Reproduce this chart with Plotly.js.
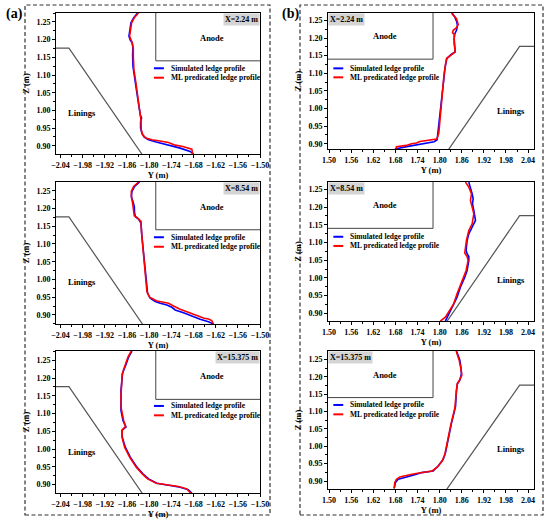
<!DOCTYPE html>
<html><head><meta charset="utf-8">
<script src="https://cdn.plot.ly/plotly-3.0.1.min.js"></script>
<style>html,body{margin:0;padding:0;background:#fff}#chart{width:550px;height:522px}</style>
</head><body><div id="chart"></div>
<script>
// ---------- data (Y in m, Z in m) ----------
const panelLabels = ["X=2.24 m","X=2.24 m","X=8.54 m","X=8.54 m","X=15.375 m","X=15.375 m"];
const seriesNames = ["Simulated ledge profile","ML predicated ledge profile"];
const xTitle = "Y (m)", yTitle = "Z (m)";

// (a) X=2.24 m
const aTopSimY = [-1.8312,-1.842,-1.8492,-1.8528,-1.8546,-1.851,-1.8456,-1.8438,-1.8447,-1.8438,-1.8393,-1.833,-1.8276,-1.824,-1.8204,-1.8231,-1.8231,-1.8195,-1.8132,-1.8015,-1.7835,-1.752,-1.716,-1.689,-1.68];
const aTopSimZ = [1.2755,1.2613,1.2472,1.2283,1.2094,1.1981,1.1906,1.1764,1.1576,1.1246,1.0869,1.0491,1.0114,0.9878,0.9784,0.969,0.9501,0.936,0.9247,0.9171,0.9115,0.903,0.8936,0.8841,0.8766];
const aTopMlY = [-1.8285,-1.8402,-1.8474,-1.8519,-1.8528,-1.8474,-1.8429,-1.8429,-1.8411,-1.8357,-1.8303,-1.8249,-1.8222,-1.8213,-1.8177,-1.8087,-1.7925,-1.7745,-1.7475,-1.7295,-1.7088,-1.6845,-1.6818];
const aTopMlZ = [1.2755,1.2613,1.2472,1.2236,1.2094,1.1953,1.1764,1.1529,1.1151,1.0774,1.0397,1.002,0.9737,0.9454,0.9313,0.9218,0.9171,0.9143,0.9096,0.902,0.8983,0.8907,0.8766];
// (b) X=2.24 m
const bTopSimY = [1.8339,1.8412,1.8457,1.8484,1.8457,1.8412,1.8394,1.8403,1.8421,1.8321,1.8195,1.8149,1.8104,1.8059,1.8014,1.7968,1.7932,1.7851,1.7507,1.7145,1.6783];
const bTopSimZ = [1.2707,1.2594,1.2481,1.2359,1.2218,1.2124,1.1982,1.1794,1.1606,1.154,1.1418,1.1183,1.0712,1.0242,0.9771,0.93,0.9112,0.9056,0.9,0.8924,0.8849];
const bTopMlY = [1.8321,1.8457,1.8502,1.8457,1.8367,1.8349,1.8394,1.8394,1.8421,1.8321,1.8186,1.8122,1.8077,1.8032,1.7977,1.7923,1.7778,1.7643,1.7462,1.7371,1.7235,1.71,1.6919,1.6828,1.681];
const bTopMlZ = [1.2707,1.2547,1.2387,1.2293,1.2218,1.2152,1.2105,1.1841,1.1606,1.1531,1.1418,1.0994,1.043,0.9865,0.93,0.9131,0.9112,0.9084,0.9065,0.9018,0.9,0.8952,0.8924,0.8915,0.8849];
// (a) X=8.54 m
const aMidSimY = [-1.8258,-1.8393,-1.8465,-1.8483,-1.8438,-1.8402,-1.8393,-1.8366,-1.8285,-1.8222,-1.8195,-1.815,-1.8105,-1.8078,-1.8042,-1.797,-1.7835,-1.77,-1.752,-1.7385,-1.7295,-1.707,-1.68,-1.662,-1.6395,-1.626];
const aMidSimZ = [1.2745,1.2622,1.2481,1.234,1.2199,1.2058,1.187,1.1757,1.17,1.1587,1.1211,1.074,1.027,0.9894,0.9611,0.947,0.9376,0.9329,0.9282,0.9216,0.9141,0.9065,0.8952,0.8877,0.8811,0.8745];
const aMidMlY = [-1.8285,-1.842,-1.8483,-1.8474,-1.8447,-1.842,-1.8402,-1.833,-1.822,-1.8204,-1.8168,-1.8123,-1.8087,-1.806,-1.7988,-1.779,-1.761,-1.7475,-1.734,-1.716,-1.698,-1.671,-1.6512,-1.6395,-1.6305,-1.626];
const aMidMlZ = [1.2745,1.2622,1.2481,1.2293,1.2152,1.1964,1.1794,1.1747,1.1634,1.1305,1.0834,1.0364,0.9988,0.9658,0.9498,0.9395,0.9357,0.9329,0.9254,0.916,0.9093,0.898,0.8905,0.8887,0.8839,0.8745];
// (b) X=8.54 m
const bMidSimY = [1.879,1.8836,1.8881,1.8909,1.8891,1.8927,1.8945,1.8972,1.8881,1.8791,1.8745,1.8718,1.8745,1.8791,1.8791,1.8745,1.8681,1.8563,1.8472,1.8336,1.8245,1.8154];
const bMidSimZ = [1.2707,1.2566,1.2377,1.2236,1.2095,1.1906,1.1764,1.1623,1.1434,1.1246,1.1057,1.0774,1.068,1.0605,1.0491,1.0208,1.002,0.9737,0.9454,0.9171,0.8983,0.8775];
const bMidMlY = [1.87,1.8791,1.8863,1.8836,1.8881,1.8927,1.8881,1.8791,1.8727,1.8681,1.8745,1.8772,1.8718,1.8609,1.8472,1.8381,1.8245,1.8154,1.8018];
const bMidMlZ = [1.2707,1.2566,1.2377,1.2189,1.2,1.1812,1.1529,1.134,1.1057,1.0699,1.0605,1.0491,1.0208,0.9926,0.9548,0.9265,0.903,0.8888,0.8775];
// (a) X=15.375 m
const aBotSimY = [-1.8465,-1.8555,-1.8618,-1.869,-1.8726,-1.8735,-1.8762,-1.8762,-1.8762,-1.8708,-1.8627,-1.8735,-1.8726,-1.8645,-1.851,-1.833,-1.8168,-1.8015,-1.779,-1.743,-1.716,-1.6935,-1.6845];
const aBotSimZ = [1.2763,1.2594,1.2406,1.2218,1.2124,1.1935,1.1653,1.1371,1.1089,1.0806,1.0618,1.0524,1.0336,1.0053,0.9771,0.9489,0.93,0.9159,0.9037,0.8971,0.8924,0.8849,0.8755];
const aBotMlY = [-1.8483,-1.8573,-1.8636,-1.8699,-1.8735,-1.8753,-1.8762,-1.8753,-1.869,-1.8636,-1.8726,-1.8735,-1.8663,-1.8528,-1.8348,-1.8186,-1.8042,-1.7808,-1.7475,-1.7205,-1.698,-1.6872];
const aBotMlZ = [1.2763,1.2594,1.2406,1.2218,1.203,1.1747,1.1465,1.1136,1.0806,1.0637,1.0543,1.0336,1.0053,0.9771,0.9489,0.93,0.9159,0.9037,0.899,0.8943,0.8877,0.8755];
// (b) X=15.375 m
const bBotSimY = [1.8457,1.8548,1.8575,1.8593,1.8548,1.8484,1.8457,1.843,1.8321,1.8231,1.8158,1.8095,1.7959,1.7824,1.7507,1.7371,1.7235,1.7054,1.6873,1.6801,1.6765];
const bBotSimZ = [1.2738,1.2472,1.2282,1.2092,1.1902,1.1807,1.1617,1.1142,1.0667,1.0192,0.9812,0.9622,0.9432,0.9289,0.9242,0.9194,0.9147,0.9099,0.9052,0.8957,0.8787];
const bBotMlY = [1.8448,1.853,1.8575,1.8602,1.853,1.8475,1.8448,1.8412,1.8303,1.8213,1.814,1.8068,1.7941,1.7796,1.7552,1.7398,1.7253,1.7081,1.6919,1.6828,1.6783,1.6765];
const bBotMlZ = [1.2738,1.2472,1.2235,1.2044,1.1883,1.1788,1.1522,1.1094,1.0619,1.0144,0.9764,0.9574,0.9403,0.9289,0.9261,0.9223,0.9194,0.9147,0.9118,0.9052,0.8957,0.8787];

// geometry (right side; left side mirrored)
const liningY = [2.10, 2.017, 1.802];
const liningZ = [1.176, 1.176, 0.85];
const anodeY = [1.782, 1.782, 1.40];
const anodeZ = [1.30, 1.14, 1.14];

// ---------- build ----------
const sims = [[aTopSimY,aTopSimZ],[bTopSimY,bTopSimZ],[aMidSimY,aMidSimZ],[bMidSimY,bMidSimZ],[aBotSimY,aBotSimZ],[bBotSimY,bBotSimZ]];
const mls  = [[aTopMlY,aTopMlZ],[bTopMlY,bTopMlZ],[aMidMlY,aMidMlZ],[bMidMlY,bMidMlZ],[aBotMlY,aBotMlZ],[bBotMlY,bBotMlZ]];

const W = 550, H = 522;
// panel boxes in px: [left, right, top, bottom]
const boxes = [[56,260,13,154],[328,534,13,149],[56,260,182,324],[328,534,182,321],[56,260,351,493],[328,534,351,489]];
const xRanges = [[-2.052,-1.5],[1.497,2.056],[-2.052,-1.5],[1.497,2.056],[-2.052,-1.5],[1.497,2.056]];
const yRanges = [[0.877,1.275],[0.885,1.271],[0.8745,1.2745],[0.878,1.271],[0.876,1.2764],[0.877,1.274]];

const SERIF = "Liberation Serif, Times New Roman, serif";
const traces = [];
const layout = {
  width: W, height: H, margin: {l:0,r:0,t:0,b:0},
  paper_bgcolor: "#fff", plot_bgcolor: "#fff", showlegend: false,
  font: {family: SERIF, color: "#000"},
  annotations: [], shapes: []
};

for (let i = 0; i < 6; i++) {
  const n = i === 0 ? "" : String(i + 1);
  const xa = "x" + n, ya = "y" + n;
  const left = (i % 2 === 0);
  const s = left ? -1 : 1;
  traces.push({x: liningY.map(v => s*v), y: liningZ, xaxis: xa, yaxis: ya, mode: "lines",
    line: {color: "#555", width: 1.2}, hoverinfo: "skip", name: "Linings"});
  traces.push({x: anodeY.map(v => s*v), y: anodeZ, xaxis: xa, yaxis: ya, mode: "lines",
    line: {color: "#444", width: 1}, hoverinfo: "skip", name: "Anode"});
  traces.push({x: sims[i][0], y: sims[i][1], xaxis: xa, yaxis: ya, mode: "lines",
    line: {color: "#0000ff", width: 1.6}, name: seriesNames[0]});
  traces.push({x: mls[i][0], y: mls[i][1], xaxis: xa, yaxis: ya, mode: "lines",
    line: {color: "#ff0000", width: 1.6}, name: seriesNames[1]});

  const b = boxes[i];
  const axCommon = {
    showline: true, mirror: true, linecolor: "#000", linewidth: 1,
    ticks: "outside", ticklen: 3, tickwidth: 1, tickcolor: "#000",
    showgrid: false, zeroline: false, fixedrange: true,
    tickfont: {family: SERIF, size: 8, weight: "bold", color: "#000"}
  };
  layout["xaxis" + n] = Object.assign({}, axCommon, {
    domain: [b[0]/W, b[1]/W], anchor: ya, range: xRanges[i], automargin: "top",
    tick0: left ? -1.5 : 1.5, dtick: 0.06, tickformat: ".2f",
    minor: {ticks: "outside", ticklen: 2, dtick: 0.03, tick0: left ? -1.5 : 1.5, tickcolor: "#000"},
    title: {text: xTitle, standoff: 1, font: {family: SERIF, size: 8.5, weight: "bold"}}
  });
  layout["yaxis" + n] = Object.assign({}, axCommon, {
    domain: [1 - b[3]/H, 1 - b[2]/H], anchor: xa, range: yRanges[i],
    tick0: 0.9, dtick: 0.05, tickformat: ".2f",
    minor: {ticks: "outside", ticklen: 2, dtick: 0.025, tick0: 0.9, tickcolor: "#000"},
    title: {text: yTitle, font: {family: SERIF, size: 8.5, weight: "bold"}}
  });

  const xd = xa + " domain", yd = ya + " domain";
  // panel label box
  layout.annotations.push({xref: xd, yref: yd, x: left ? 1 : 0, y: 1, xanchor: left ? "right" : "left", yanchor: "top",
    text: "<b>" + panelLabels[i] + "</b>", showarrow: false, bgcolor: "#d4d4d4", borderpad: 1,
    font: {family: SERIF, size: 8, color: "#000"}});
  // Anode & Linings
  layout.annotations.push({xref: xa, yref: ya, x: left ? -1.63 : 1.653, y: 1.205, text: "<b>Anode</b>",
    showarrow: false, font: {family: SERIF, size: 8.5, color: "#000"}});
  layout.annotations.push({xref: xa, yref: ya, x: left ? -1.982 : 1.993, y: 0.993, text: "<b>Linings</b>",
    showarrow: false, font: {family: SERIF, size: 8.5, color: "#000"}});
  // legend (drawn manually to match the short line samples)
  const lx0 = left ? 0.480 : 0.026, lx1 = left ? 0.529 : 0.074, tx = left ? 0.552 : 0.097;
  const ly = [[0.608,0.541],[0.593,0.527],[0.611,0.544],[0.606,0.540],[0.613,0.547],[0.609,0.541]][i];
  const cols = ["#0000ff", "#ff0000"];
  for (let k = 0; k < 2; k++) {
    layout.shapes.push({type: "line", xref: xd, yref: yd, x0: lx0, x1: lx1, y0: ly[k], y1: ly[k],
      line: {color: cols[k], width: 2}});
    layout.annotations.push({xref: xd, yref: yd, x: tx, y: ly[k], xanchor: "left", yanchor: "middle",
      text: "<b>" + seriesNames[k] + "</b>", showarrow: false, font: {family: SERIF, size: 7.5, color: "#000"}});
  }
}

// group frames and (a)/(b)
layout.shapes.push({type: "rect", xref: "paper", yref: "paper", x0: 25/W, x1: 270/W, y0: 1-515/H, y1: 1-5/H,
  line: {color: "#333", width: 1.2, dash: "4px,2.5px"}});
layout.shapes.push({type: "rect", xref: "paper", yref: "paper", x0: 300/W, x1: 543/W, y0: 1-515/H, y1: 1-5/H,
  line: {color: "#333", width: 1.2, dash: "4px,2.5px"}});
layout.annotations.push({xref: "paper", yref: "paper", x: 4/W, y: 1-14/H, xanchor: "left", yanchor: "middle",
  text: "<b>(a)</b>", showarrow: false, font: {family: SERIF, size: 14, color: "#000"}});
layout.annotations.push({xref: "paper", yref: "paper", x: 280/W, y: 1-14/H, xanchor: "left", yanchor: "middle",
  text: "<b>(b)</b>", showarrow: false, font: {family: SERIF, size: 14, color: "#000"}});

Plotly.newPlot("chart", traces, layout, {staticPlot: true, displayModeBar: false});
</script>
</body></html>
